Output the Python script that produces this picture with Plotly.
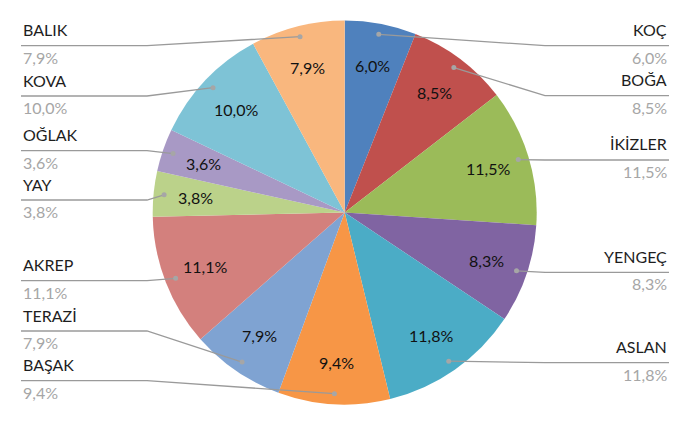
import math
import plotly.graph_objects as go

# ---------------- data ----------------
signs = ["KOÇ", "BOĞA", "İKİZLER", "YENGEÇ", "ASLAN", "BAŞAK",
         "TERAZİ", "AKREP", "YAY", "OĞLAK", "KOVA", "BALIK"]
shares = [6.0, 8.5, 11.5, 8.3, 11.8, 9.4, 7.9, 11.1, 3.8, 3.6, 10.0, 7.9]
colors = ["#4F81BD", "#C0504D", "#9BBB59", "#8064A2", "#4BACC6", "#F79646",
          "#7FA3D2", "#D3807D", "#BBD28A", "#A899C5", "#7EC3D6", "#F9B77E"]

# ---------------- layout constants ----------------
W, H = 690, 427
CX, CY, R = 344.7, 212.5, 192.0          # pie centre / radius in pixels
# y (px) of each label's leader baseline (label slots)
line_y = [45.7, 95.7, 160, 272.3, 362.7, 380.7, 331, 280.7, 200, 150.7, 96, 45.7]
LEFT_X, RIGHT_X = 21, 669
LEFT_ELBOW, RIGHT_ELBOW = 147, 545
DOT_F, IN_F = 0.945, 0.78
FONT = "Lato"
FS = 16


def px(x):
    return x / W


def py(y):
    return 1 - y / H


def fmt(v):
    return f"{v:.1f}".replace(".", ",") + "%"


fig = go.Figure(go.Pie(
    labels=signs, values=shares, sort=False, direction="clockwise", rotation=0,
    marker=dict(colors=colors, line=dict(width=0)),
    textinfo="none", hoverinfo="label+percent", showlegend=False,
    domain=dict(x=[px(CX - R), px(CX + R)], y=[py(CY + R), py(CY - R)]),
))

total = sum(shares)
annotations = []
shapes = []
cum = 0.0
for name, v, ly in zip(signs, shares, line_y):
    mid = (cum + v / 2) / total * 2 * math.pi
    cum += v
    sx, sy = math.sin(mid), -math.cos(mid)
    # inside percentage label
    annotations.append(dict(
        x=px(CX + IN_F * R * sx), y=py(CY + IN_F * R * sy), xref="paper", yref="paper",
        text=fmt(v), showarrow=False, font=dict(family=FONT, size=FS, color="#111111"),
        xanchor="center", yanchor="middle"))
    # leader dot
    dx, dy = CX + DOT_F * R * sx, CY + DOT_F * R * sy
    right = sx > 0
    edge = RIGHT_X if right else LEFT_X
    elbow = RIGHT_ELBOW if right else LEFT_ELBOW
    path = f"M {px(edge)},{py(ly)} L {px(elbow)},{py(ly)} L {px(dx)},{py(dy)}"
    shapes.append(dict(type="path", path=path, xref="paper", yref="paper",
                       line=dict(color="#9A9A9A", width=1.3)))
    shapes.append(dict(type="circle", xref="paper", yref="paper",
                       xsizemode="pixel", ysizemode="pixel",
                       xanchor=px(dx), yanchor=py(dy), x0=-2.5, x1=2.5, y0=-2.5, y1=2.5,
                       fillcolor="#A6A6A6", line=dict(width=0)))
    anchor = "right" if right else "left"
    annotations.append(dict(
        x=px(edge), y=py(ly - 16), xref="paper", yref="paper", text=name,
        showarrow=False, xanchor=anchor, yanchor="middle",
        font=dict(family=FONT, size=FS, color="#1E1E1E")))
    annotations.append(dict(
        x=px(edge), y=py(ly + 11.5), xref="paper", yref="paper", text=fmt(v),
        showarrow=False, xanchor=anchor, yanchor="middle",
        font=dict(family=FONT, size=FS, color="#A6A6A6")))

fig.update_layout(
    width=W, height=H, margin=dict(l=0, r=0, t=0, b=0),
    paper_bgcolor="white", plot_bgcolor="white",
    annotations=annotations, shapes=shapes,
)

fig.write_html("out.html")
